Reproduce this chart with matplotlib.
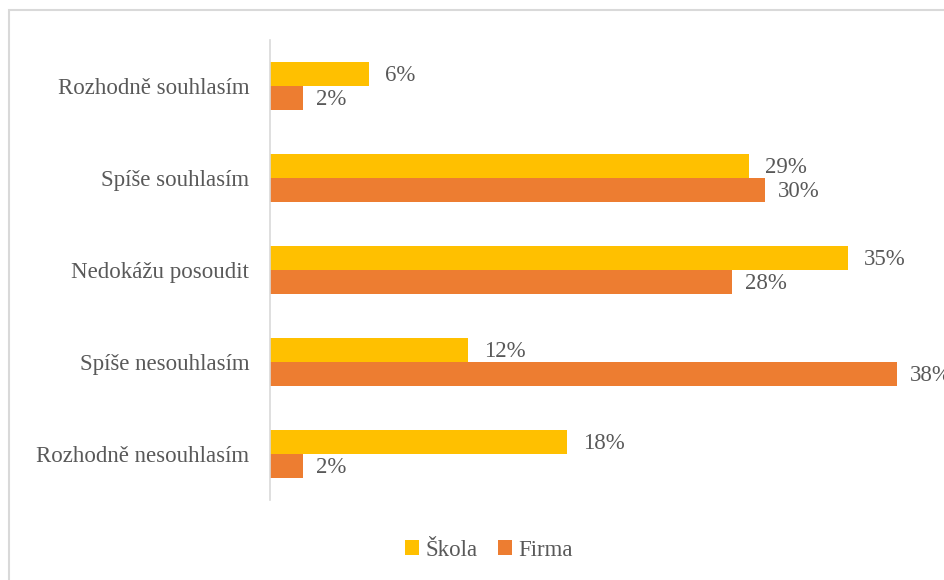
import numpy as np
import matplotlib.pyplot as plt
from matplotlib.patches import Rectangle

plt.rcParams['font.family'] = ['Liberation Serif', 'DejaVu Serif']

categories = ['Rozhodně souhlasím', 'Spíše souhlasím', 'Nedokážu posoudit',
              'Spíše nesouhlasím', 'Rozhodně nesouhlasím']
skola = [6, 29, 35, 12, 18]
firma = [2, 30, 28, 38, 2]

c_skola = '#FFC000'
c_firma = '#ED7D31'
txt = '#595959'
fs = 16.5

fig = plt.figure(figsize=(9.44, 5.8), dpi=100)
fig.patches.append(Rectangle((9/944, -0.1), 1.2, (580-10)/580 + 0.1,
                             transform=fig.transFigure, fill=False,
                             edgecolor='#D9D9D9', linewidth=1.5))
ax = fig.add_axes([270/944, 80/580, 660/944, 460/580])

y = np.arange(len(categories))
h = 0.26
ax.barh(y - h/2, skola, height=h, color=c_skola, label='Škola')
ax.barh(y + h/2, firma, height=h, color=c_firma, label='Firma')

for i in range(len(categories)):
    ax.text(skola[i] + 1, y[i] - h/2 + 0.02, f'{skola[i]}%', va='center', ha='left',
            fontsize=fs, color=txt)
    ax.text(firma[i] + 0.8, y[i] + h/2 + 0.02, f'{firma[i]}%', va='center', ha='left',
            fontsize=fs, color=txt, clip_on=False)

ax.set_xlim(0, 40)
ax.set_ylim(len(categories) - 0.5, -0.5)
ax.set_yticks(y)
ax.set_yticklabels(categories, fontsize=fs, color=txt)
ax.tick_params(axis='y', length=0, pad=15)
ax.set_xticks([])
for s in ['top', 'right', 'bottom']:
    ax.spines[s].set_visible(False)
ax.spines['left'].set_color('#D9D9D9')
ax.spines['left'].set_linewidth(1.2)

fig.legend(loc='center', bbox_to_anchor=(489/944, 1 - 550/580), ncol=2,
           frameon=False, fontsize=fs, handlelength=0.6, handleheight=0.6,
           handletextpad=0.3, columnspacing=0.9, labelcolor=txt)

fig.savefig('out.png', dpi=100)
